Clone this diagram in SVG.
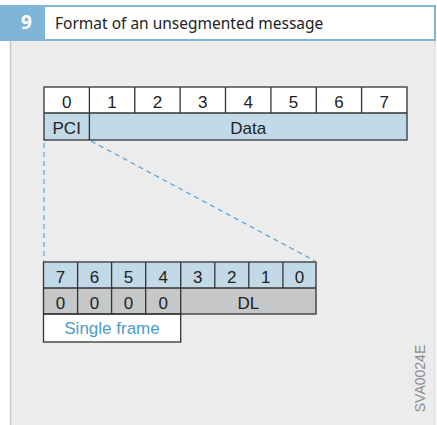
<svg xmlns="http://www.w3.org/2000/svg" width="437" height="425" viewBox="0 0 437 425">
<style>
.t{font-family:"Liberation Sans",Arial,sans-serif;font-size:17px;fill:#222;text-anchor:middle}
.ln{stroke:#333;stroke-width:1.3;fill:none}
.dash{stroke:#5aa3d3;stroke-width:1.2;stroke-dasharray:5,4;fill:none}
</style>
<rect x="0" y="0" width="437" height="425" fill="#ffffff"/>
<g id="frame">
<rect x="10" y="40" width="425" height="385" fill="#ebeceb"/>
<line x1="10.5" y1="40" x2="10.5" y2="425" stroke="#c8c9c8" stroke-width="1.5"/>
<line x1="435" y1="40" x2="435" y2="425" stroke="#d6d7d6" stroke-width="1"/>
<rect x="1" y="6" width="434" height="34" fill="#ffffff" stroke="#7fb6d8" stroke-width="2"/>
<rect x="0" y="5" width="45" height="36" fill="#7fb6d8"/>
<text x="26.5" y="29" font-family="'Noto Sans','Liberation Sans',sans-serif" font-size="19" font-weight="bold" fill="#ffffff" text-anchor="middle">9</text>
<text x="55" y="29" font-family="'Noto Sans','Liberation Sans',sans-serif" font-size="15.5" fill="#222">Format of an unsegmented message</text>
</g>
<g id="connectors">
<line class="dash" x1="44" y1="143" x2="44" y2="261"/>
<line class="dash" x1="91" y1="141" x2="315" y2="261"/>
</g>
<g id="top-table">
<rect x="44" y="87" width="363" height="26" fill="#ffffff"/>
<rect x="44" y="113" width="363" height="27" fill="#c2d9e8"/>
<rect class="ln" x="44" y="87" width="363" height="53"/>
<line class="ln" x1="44" y1="113" x2="407" y2="113"/>
<path class="ln" d="M89.4 87V140M134.8 87V113M180.1 87V113M225.5 87V113M270.9 87V113M316.3 87V113M361.6 87V113"/>
<text class="t" x="66.7" y="108">0</text>
<text class="t" x="112.1" y="108">1</text>
<text class="t" x="157.4" y="108">2</text>
<text class="t" x="202.8" y="108">3</text>
<text class="t" x="248.2" y="108">4</text>
<text class="t" x="293.6" y="108">5</text>
<text class="t" x="338.9" y="108">6</text>
<text class="t" x="384.3" y="108">7</text>
<text class="t" x="66.7" y="134">PCI</text>
<text class="t" x="248.2" y="134">Data</text>
</g>
<g id="bottom-table">
<rect x="43.5" y="262" width="272.5" height="26" fill="#c2d9e8"/>
<rect x="43.5" y="288" width="272.5" height="26" fill="#c6c7c8"/>
<rect x="43.5" y="314" width="137.2" height="28" fill="#ffffff"/>
<rect class="ln" x="43.5" y="262" width="272.5" height="52"/>
<rect class="ln" x="43.5" y="314" width="137.2" height="28"/>
<line class="ln" x1="43.5" y1="288" x2="316" y2="288"/>
<path class="ln" d="M77.6 262V314M111.6 262V314M145.7 262V314M180.7 262V314M214.8 262V288M248.8 262V288M282.9 262V288"/>
<text class="t" x="60.5" y="283">7</text>
<text class="t" x="94.6" y="283">6</text>
<text class="t" x="128.6" y="283">5</text>
<text class="t" x="163.2" y="283">4</text>
<text class="t" x="197.7" y="283">3</text>
<text class="t" x="231.8" y="283">2</text>
<text class="t" x="265.8" y="283">1</text>
<text class="t" x="299.5" y="283">0</text>
<text class="t" x="60.5" y="309">0</text>
<text class="t" x="94.6" y="309">0</text>
<text class="t" x="128.6" y="309">0</text>
<text class="t" x="163.2" y="309">0</text>
<text class="t" x="248.3" y="309">DL</text>
<text class="t" x="112" y="334" style="fill:#4a9ccc">Single frame</text>
</g>
<text x="425" y="378.5" transform="rotate(-90 425 378.5)" font-family="'Liberation Sans',Arial,sans-serif" font-size="14" fill="#8a8b8c" text-anchor="middle">SVA0024E</text>
</svg>
